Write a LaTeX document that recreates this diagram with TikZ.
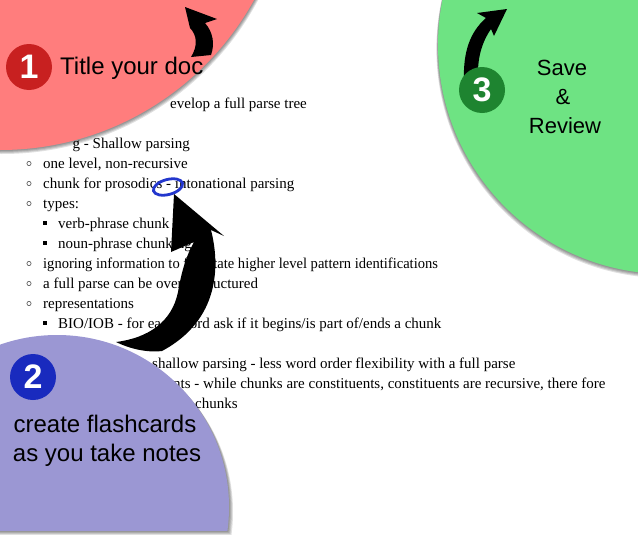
\documentclass[tikz,border=0pt]{standalone}
\usepackage{fontspec}
\setmainfont{Liberation Serif}
\newfontfamily\labelfont{Liberation Sans}
\definecolor{redbig}{RGB}{255,125,125}
\definecolor{greenbig}{RGB}{110,227,131}
\definecolor{purplebig}{RGB}{155,151,211}
\definecolor{redsmall}{RGB}{200,32,32}
\definecolor{greensmall}{RGB}{30,132,48}
\definecolor{bluesmall}{RGB}{25,42,190}
\definecolor{inkblue}{RGB}{35,55,205}
\begin{document}
\begin{tikzpicture}[x=1pt,y=-1pt,
  body/.style={anchor=base west, inner sep=0pt, font=\fontsize{15}{15}\selectfont},
  bodyr/.style={body, anchor=base east},
  lbl/.style={inner sep=0pt, font=\labelfont\fontsize{24}{24}\selectfont},
  lblsr/.style={anchor=base, inner sep=0pt, font=\labelfont\fontsize{22}{22}\selectfont},
  numc/.style={circle, minimum size=46pt, inner sep=0pt, text=white, font=\labelfont\bfseries\fontsize{34}{34}\selectfont},
  shad/.style={fill=black, opacity=0.12},
  cbul/.style={draw=black!70, line width=0.6pt},
  sbul/.style={fill=black}
]
\useasboundingbox (0,0) rectangle (638,541);
\fill[white] (0,0) rectangle (638,541);

% ---- document text ----
\node[body] (t1) at (170,108) {evelop a full parse tree};
\node[bodyr] (t2) at (190,148) {g - Shallow parsing};
\node[body] (t3) at (43,168) {one level, non-recursive};
\node[body] (t4) at (43,188) {chunk for prosodics - intonational parsing};
\node[body] (t5) at (43,208) {types:};
\node[body] (t6) at (58,228) {verb-phrase chunk};
\node[body] (t7) at (58,248) {noun-phrase chunking};
\node[body] (t8) at (43,268) {\scalebox{0.97}[1]{ignoring information to facilitate higher level pattern identifications}};
\node[body] (t9) at (43,288) {a full parse can be overly structured};
\node[body] (t10) at (43,308) {representations};
\node[body] (t11) at (58,328) {BIO/IOB - for each word ask if it begins/is part of/ends a chunk};
\node[body] (t12) at (152,368) {shallow parsing - less word order flexibility with a full parse};
\node[body] (t13) at (173,388) {nts - while chunks are constituents, constituents are recursive, there fore};
\node[body] (t14) at (195,408) {chunks};

% bullets
\foreach \yy in {168,188,208,268,288,308} \draw[cbul] (29,\yy-4.5) circle (2.1);
\foreach \yy in {228,248,328} \fill[sbul] (43,\yy-7) rectangle (47,\yy-3);

% ---- big circles ----
\begin{scope}
\clip (0,0) rectangle (638,541);
% red
\foreach \d in {1,2,3,4} \fill[shad] (\d*0.5,-140+\d) circle (290);
\fill[redbig] (0,-140) circle (290);
% green
\foreach \d in {1,2,3,4} \fill[shad] (667-\d*0.4,45+\d) circle (229);
\fill[greenbig] (667,45) circle (229);
% purple
\foreach \d in {1,2,3,4}{
  \begin{scope}[shift={(\d,\d*1.2)}]
    \clip (-20,0) rectangle (660,530);
    \fill[shad] (57,507) circle (172);
  \end{scope}}
\begin{scope}
  \clip (-20,0) rectangle (660,530);
  \fill[purplebig] (57,507) circle (172);
\end{scope}
\end{scope}

% ---- blue ellipse ----
\draw[inkblue, line width=2.8pt] (168,187) ellipse [x radius=15, y radius=7.5, rotate=15];

% ---- arrows ----
\fill[black] (185,7) -- (217,19) -- (205,23) .. controls (213,32) and (215,44) .. (211,55)
  -- (191,57) .. controls (198,46) and (197,35) .. (190,28) -- cycle;
\fill[black] (507,9) -- (477,13) -- (486,18) .. controls (470,32) and (463,52) .. (464,80)
  -- (478,80) .. controls (477,58) and (482,42) .. (491,29) -- (494,36) -- cycle;
\fill[black] (174,194) -- (224,236) -- (211,230) .. controls (220,265) and (220,320) .. (162,351)
  .. controls (146,353) and (128,348) .. (116,342)
  .. controls (148,338) and (172,322) .. (178,292)
  .. controls (181,275) and (185,258) .. (194,242) -- (171,252) -- cycle;

% ---- labels ----
\node[numc, fill=redsmall] (n1) at (29,67) {1};
\node[lbl, anchor=base west] (title) at (60,74) {Title your doc};
\node[numc, fill=greensmall] (n3) at (482,90) {3};
\node[lblsr] (save) at (562,75) {Save};
\node[lblsr] (amp) at (563,104) {\&};
\node[lblsr] (review) at (565,133) {Review};
\node[numc, fill=bluesmall] (n2) at (33,377) {2};
\node[lbl, anchor=base] (flash) at (105,432) {create flashcards};
\node[lbl, anchor=base] (notes) at (107,461) {as you take notes};
\end{tikzpicture}
\end{document}
